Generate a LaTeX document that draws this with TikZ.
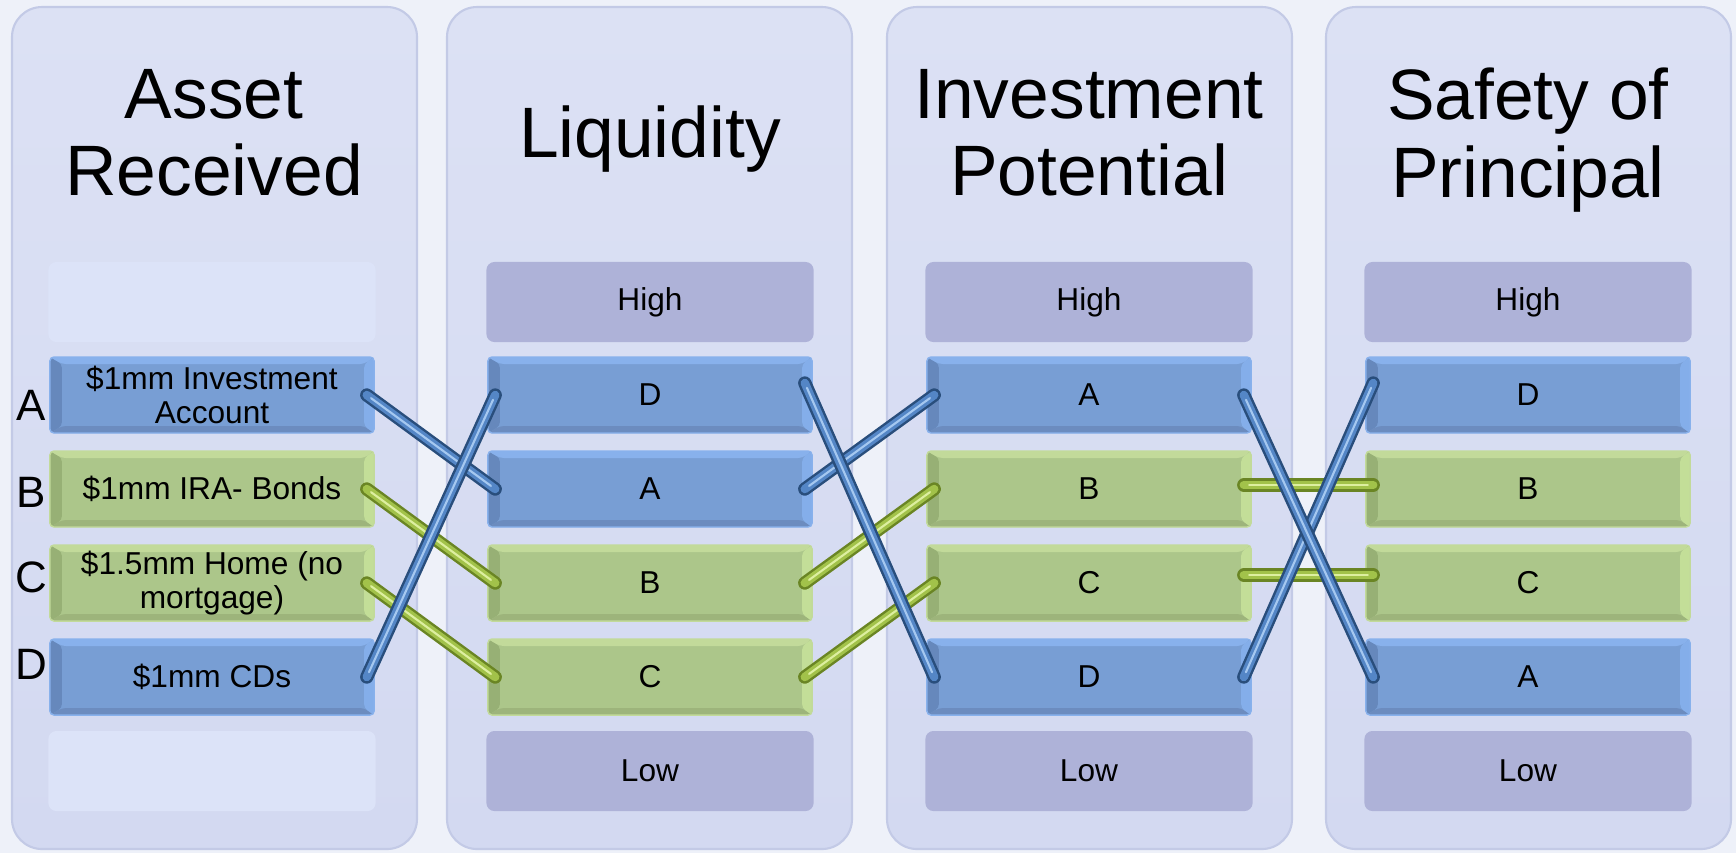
\documentclass[tikz,border=0pt]{standalone}
\usepackage{fontspec}
\setmainfont{Liberation Sans}

\definecolor{paper}{HTML}{EEF1F9}
\definecolor{panetop}{HTML}{DCE1F4}
\definecolor{panebot}{HTML}{D3D9F1}
\definecolor{panerim}{HTML}{C3CAE6}
\definecolor{rankfill}{HTML}{AEB2D8}
\definecolor{blankfill}{HTML}{DCE3F8}
% bevelled bars
\definecolor{bluebar}{HTML}{789ED4}
\definecolor{bluetop}{HTML}{88B1EC}
\definecolor{blueedge}{HTML}{84AEEA}
\definecolor{blueshade}{HTML}{6688BC}
\definecolor{bluefoot}{HTML}{6C8CBF}
\definecolor{greenbar}{HTML}{ACC68A}
\definecolor{greentop}{HTML}{C2DA9A}
\definecolor{greenedge}{HTML}{C3DE98}
\definecolor{greenshade}{HTML}{97B075}
\definecolor{greenfoot}{HTML}{9DB47B}
% tubes
\definecolor{bluetubedark}{HTML}{294E7C}
\definecolor{bluetube}{HTML}{5486C6}
\definecolor{bluetubehi}{HTML}{A5C8F0}
\definecolor{greentubedark}{HTML}{6A8524}
\definecolor{greentube}{HTML}{A2C24A}
\definecolor{greentubehi}{HTML}{DDEFA0}

\newcommand{\barfont}{\fontsize{9}{9.7}\selectfont}

\tikzset{
  panel/.style={top color=panetop, bottom color=panebot, draw=panerim,
    line width=0.6pt, rounded corners=0.3cm},
  title/.style={font=\fontsize{20.3}{22}\selectfont, align=center, inner sep=0pt},
  letter/.style={font=\fontsize{12.5}{12.5}\selectfont, inner sep=0pt},
  rank/.style={fill=rankfill, rounded corners=0.08cm, minimum width=3.27cm,
    minimum height=0.8cm, inner sep=0pt, font=\barfont},
  blank/.style={rank, fill=blankfill},
  bar/.style={fill=#1bar, draw=#1top, line width=0.4pt, rounded corners=0.04cm,
    minimum width=3.24cm, minimum height=0.76cm, inner sep=0pt,
    align=center, font=\barfont,
    path picture={
      \fill[#1shade] (path picture bounding box.north west)
        -- ([xshift=0.12cm,yshift=-0.07cm]path picture bounding box.north west)
        -- ([xshift=0.12cm,yshift=0.07cm]path picture bounding box.south west)
        -- (path picture bounding box.south west) -- cycle;
      \fill[#1foot] (path picture bounding box.south west)
        -- ([xshift=0.12cm,yshift=0.07cm]path picture bounding box.south west)
        -- ([xshift=-0.1cm,yshift=0.07cm]path picture bounding box.south east)
        -- (path picture bounding box.south east) -- cycle;
      \fill[#1edge] (path picture bounding box.south east)
        -- ([xshift=-0.1cm,yshift=0.07cm]path picture bounding box.south east)
        -- ([xshift=-0.1cm,yshift=-0.07cm]path picture bounding box.north east)
        -- (path picture bounding box.north east) -- cycle;
      \fill[#1top] (path picture bounding box.north east)
        -- ([xshift=-0.1cm,yshift=-0.07cm]path picture bounding box.north east)
        -- ([xshift=0.12cm,yshift=-0.07cm]path picture bounding box.north west)
        -- (path picture bounding box.north west) -- cycle;
    }},
  tube/.style={line width=3.8pt, line cap=round, draw=#1tubedark,
    postaction={draw=#1tube, line width=2.4pt},
    postaction={draw=#1tubehi, line width=0.6pt, shorten >=1.5pt, shorten <=1.5pt}}
}

\begin{document}
\begin{tikzpicture}[x=0.01cm, y=-0.01cm]
\useasboundingbox (0,0) rectangle (1736,853);
\fill[paper] (0,0) rectangle (1736,853);

% the four columns
\draw[panel] (12,7) rectangle (417,849);
\draw[panel] (447,7) rectangle (852,849);
\draw[panel] (887,7) rectangle (1292,849);
\draw[panel] (1326,7) rectangle (1731,849);

\node[title] (tasset) at (214,133) {Asset\\Received};
\node[title] (tliq) at (650,139) {Liquidity};
\node[title] (tinv) at (1089,133) {Investment\\Potential};
\node[title] (tsafe) at (1528,140) {Safety of\\Principal};

% assets
\node[blank] (atop) at (212,302) {};
\node[bar=blue] (a1) at (212,395) {\$1mm Investment\\Account};
\node[bar=green] (a2) at (212,489) {\$1mm IRA- Bonds};
\node[bar=green] (a3) at (212,583) {\$1.5mm Home (no\\mortgage)};
\node[bar=blue] (a4) at (212,677) {\$1mm CDs};
\node[blank] (abot) at (212,771) {};

\node[letter] (la) at (31,405) {A};
\node[letter] (lb) at (31,492) {B};
\node[letter] (lc) at (31,577) {C};
\node[letter] (ld) at (31,664) {D};

% liquidity
\node[rank] (lhigh) at (650,302) {High};
\node[bar=blue] (l1) at (650,395) {D};
\node[bar=blue] (l2) at (650,489) {A};
\node[bar=green] (l3) at (650,583) {B};
\node[bar=green] (l4) at (650,677) {C};
\node[rank] (llow) at (650,771) {Low};

% investment potential
\node[rank] (ihigh) at (1089,302) {High};
\node[bar=blue] (i1) at (1089,395) {A};
\node[bar=green] (i2) at (1089,489) {B};
\node[bar=green] (i3) at (1089,583) {C};
\node[bar=blue] (i4) at (1089,677) {D};
\node[rank] (ilow) at (1089,771) {Low};

% safety of principal
\node[rank] (shigh) at (1528,302) {High};
\node[bar=blue] (s1) at (1528,395) {D};
\node[bar=green] (s2) at (1528,489) {B};
\node[bar=green] (s3) at (1528,583) {C};
\node[bar=blue] (s4) at (1528,677) {A};
\node[rank] (slow) at (1528,771) {Low};

% links, green under blue
\draw[tube=green] ([xshift=-0.08cm]a2.east) -- ([xshift=0.08cm]l3.west);
\draw[tube=green] ([xshift=-0.08cm]a3.east) -- ([xshift=0.08cm]l4.west);
\draw[tube=green] ([xshift=-0.08cm]l3.east) -- ([xshift=0.08cm]i2.west);
\draw[tube=green] ([xshift=-0.08cm]l4.east) -- ([xshift=0.08cm]i3.west);
\draw[tube=green] ([xshift=-0.08cm,yshift=0.04cm]i2.east) -- ([xshift=0.08cm,yshift=0.04cm]s2.west);
\draw[tube=green] ([xshift=-0.08cm,yshift=0.08cm]i3.east) -- ([xshift=0.08cm,yshift=0.08cm]s3.west);

\draw[tube=blue] ([xshift=-0.08cm]a1.east) -- ([xshift=0.08cm]l2.west);
\draw[tube=blue] ([xshift=-0.08cm]a4.east) -- ([xshift=0.08cm]l1.west);
\draw[tube=blue] ([xshift=-0.08cm]l2.east) -- ([xshift=0.08cm]i1.west);
\draw[tube=blue] ([xshift=-0.08cm,yshift=0.12cm]l1.east) -- ([xshift=0.08cm]i4.west);
\draw[tube=blue] ([xshift=-0.08cm]i4.east) -- ([xshift=0.08cm,yshift=0.12cm]s1.west);
\draw[tube=blue] ([xshift=-0.08cm]i1.east) -- ([xshift=0.08cm]s4.west);
\end{tikzpicture}
\end{document}
